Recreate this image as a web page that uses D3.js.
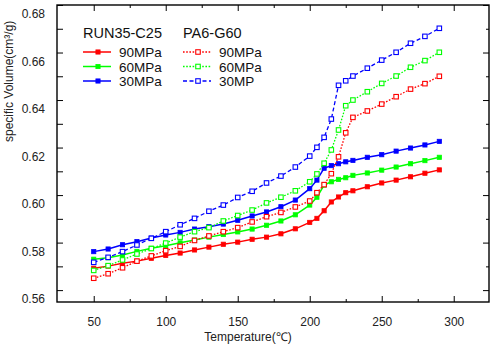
<!DOCTYPE html>
<html>
<head>
<meta charset="utf-8">
<script src="https://cdn.jsdelivr.net/npm/d3@7"></script>
<style>
  html, body { margin: 0; padding: 0; background: #fff; }
  svg { display: block; font-family: "Liberation Sans", Arial, sans-serif; }
  .axis path { stroke: #000; stroke-width: 1.3; }
  .axis line { stroke: #000; stroke-width: 1; }
  .axis text { font-size: 12px; fill: #222; }
</style>
</head>
<body>
<svg id="chart" width="495" height="344"></svg>
<script>
/* PVT chart: specific volume vs temperature, two materials at three pressures. */
const temps = [50, 60, 70, 80, 90, 100, 110, 120, 130, 140, 150, 160, 170, 180, 190,
  200, 205, 210, 215, 220, 225, 230, 240, 250, 260, 270, 280, 290];

// RUN35-C25 (solid, filled markers)
const run90 = [0.5692, 0.5701, 0.5713, 0.5722, 0.5734, 0.5746, 0.5756, 0.5769, 0.5781, 0.5793,
  0.5802, 0.5814, 0.5823, 0.5837, 0.5858, 0.5885, 0.5902, 0.5934, 0.5971, 0.5992,
  0.6010, 0.6018, 0.6035, 0.6051, 0.6063, 0.6077, 0.6092, 0.6106];
const run60 = [0.5730, 0.5736, 0.5748, 0.5763, 0.5776, 0.5787, 0.5799, 0.5811, 0.5823, 0.5834,
  0.5845, 0.5857, 0.5873, 0.5891, 0.5917, 0.5958, 0.5991, 0.6042, 0.6056, 0.6066,
  0.6073, 0.6083, 0.6093, 0.6105, 0.6118, 0.6132, 0.6145, 0.6159];
const run30 = [0.5762, 0.5773, 0.5791, 0.5804, 0.5819, 0.5832, 0.5843, 0.5857, 0.5867, 0.5878,
  0.5894, 0.5912, 0.5929, 0.5951, 0.5979, 0.6027, 0.6063, 0.6113, 0.6124, 0.6132,
  0.6140, 0.6146, 0.6159, 0.6170, 0.6185, 0.6198, 0.6211, 0.6226];

// PA6-G60 (dotted/dashed, open markers)
const pa90 = [0.5650, 0.5669, 0.5694, 0.5722, 0.5744, 0.5766, 0.5784, 0.5809, 0.5828, 0.5846,
  0.5863, 0.5887, 0.5909, 0.5927, 0.5950, 0.5975, 0.6010, 0.6044, 0.6090, 0.6161,
  0.6262, 0.6327, 0.6354, 0.6383, 0.6414, 0.6446, 0.6469, 0.6500];
const pa60 = [0.5683, 0.5703, 0.5727, 0.5752, 0.5775, 0.5798, 0.5823, 0.5846, 0.5863, 0.5891,
  0.5914, 0.5937, 0.5967, 0.5991, 0.6018, 0.6056, 0.6089, 0.6134, 0.6190, 0.6274,
  0.6376, 0.6400, 0.6435, 0.6470, 0.6501, 0.6538, 0.6566, 0.6601];
const pa30 = [0.5717, 0.5738, 0.5762, 0.5790, 0.5818, 0.5846, 0.5875, 0.5902, 0.5932, 0.5958,
  0.5990, 0.6016, 0.6051, 0.6080, 0.6118, 0.6164, 0.6201, 0.6243, 0.6320, 0.6462,
  0.6481, 0.6501, 0.6534, 0.6568, 0.6601, 0.6639, 0.6668, 0.6702];

const xTicks = [50, 100, 150, 200, 250, 300];
const xMinor = [75, 125, 175, 225, 275];
const yTicks = [0.56, 0.58, 0.60, 0.62, 0.64, 0.66, 0.68];
const yMinor = [0.57, 0.59, 0.61, 0.63, 0.65, 0.67];

const groups = ["RUN35-C25", "PA6-G60"];
const series = [
  { group: 0, label: "90MPa", color: "#ff0000", v: run90, open: false, dash: null },
  { group: 0, label: "60MPa", color: "#00ff00", v: run60, open: false, dash: null },
  { group: 0, label: "30MPa", color: "#0000ff", v: run30, open: false, dash: null },
  { group: 1, label: "90MPa", color: "#ff0000", v: pa90, open: true, dash: "1.6,1.6" },
  { group: 1, label: "60MPa", color: "#00ff00", v: pa60, open: true, dash: "1.6,1.6" },
  { group: 1, label: "30MP", color: "#0000ff", v: pa30, open: true, dash: "4,2.5" },
];

const svg = d3.select("#chart");
const L = 57, R = 489, T = 5, B = 302;
const x = d3.scaleLinear().domain([24.5, 324.5]).range([L, R]);
const y = d3.scaleLinear().domain([0.555, 0.68]).range([B, T]);

// axes: all ticks point inward
const ax = (g, axis) => g.attr("class", "axis").call(axis).call(s => s.select(".domain").remove());
ax(svg.append("g").attr("transform", `translate(0,${B})`),
  d3.axisBottom(x).tickValues(xTicks).tickSize(-6).tickPadding(15).tickFormat(d3.format("d")));
ax(svg.append("g").attr("transform", `translate(0,${B})`),
  d3.axisBottom(x).tickValues(xMinor).tickSize(-3).tickFormat(""));
ax(svg.append("g").attr("transform", `translate(0,${T})`),
  d3.axisTop(x).tickValues(xTicks).tickSize(-6).tickFormat(""));
ax(svg.append("g").attr("transform", `translate(0,${T})`),
  d3.axisTop(x).tickValues(xMinor).tickSize(-3).tickFormat(""));
ax(svg.append("g").attr("transform", `translate(${L},0)`),
  d3.axisLeft(y).tickValues(yTicks).tickSize(-6).tickPadding(12).tickFormat(d3.format(".2f")))
  .selectAll("text").attr("dy", "1.07em");
ax(svg.append("g").attr("transform", `translate(${L},0)`),
  d3.axisLeft(y).tickValues(yMinor).tickSize(-6).tickFormat(""));
ax(svg.append("g").attr("transform", `translate(${R},0)`),
  d3.axisRight(y).tickValues(yTicks).tickSize(-6).tickFormat(""));
ax(svg.append("g").attr("transform", `translate(${R},0)`),
  d3.axisRight(y).tickValues(yMinor).tickSize(-3).tickFormat(""));

svg.append("rect").attr("x", L).attr("y", T).attr("width", R - L).attr("height", B - T)
  .attr("fill", "none").attr("stroke", "#000").attr("stroke-width", 1.4);

svg.append("text").attr("x", 248).attr("y", 341).attr("text-anchor", "middle")
  .style("font-size", "12px").attr("fill", "#222").text("Temperature(℃)");
svg.append("text").attr("transform", "translate(13,142) rotate(-90)").attr("text-anchor", "start")
  .style("font-size", "12px").attr("fill", "#222").text("specific Volume(cm³/g)");

// series
const line = d3.line().x(d => x(d[0])).y(d => y(d[1]));
const plot = svg.append("g");
function marker(g, s, px, py) {
  const m = s.open ? 4.5 : 4.2;
  g.append("rect").attr("x", px - m / 2).attr("y", py - m / 2).attr("width", m).attr("height", m)
    .attr("fill", s.open ? "#fff" : s.color).attr("stroke", s.color).attr("stroke-width", s.open ? 1.1 : 0.8);
}
series.forEach(s => {
  const pts = temps.map((t, i) => [t, s.v[i]]);
  plot.append("path").datum(pts).attr("d", line).attr("fill", "none")
    .attr("stroke", s.color).attr("stroke-width", s.open ? 1.3 : 1.5)
    .attr("stroke-dasharray", s.dash);
  const g = plot.append("g");
  pts.forEach(p => marker(g, s, x(p[0]), y(p[1])));
});

// legend
const lg = svg.append("g").style("font-size", "13.5px");
groups.forEach((name, gi) => {
  const x0 = gi === 0 ? 83 : 183;
  lg.append("text").attr("x", x0).attr("y", 38).style("font-size", "14.5px").attr("fill", "#111").text(name);
  series.filter(s => s.group === gi).forEach((s, j) => {
    const yy = 52 + j * 14.5;
    lg.append("line").attr("x1", x0).attr("x2", x0 + 28).attr("y1", yy).attr("y2", yy)
      .attr("stroke", s.color).attr("stroke-width", s.open ? 1.3 : 1.5).attr("stroke-dasharray", s.dash);
    marker(lg, s, x0 + 15, yy);
    lg.append("text").attr("x", x0 + 36).attr("y", yy + 5).attr("fill", "#111").text(s.label);
  });
});
</script>
</body>
</html>
